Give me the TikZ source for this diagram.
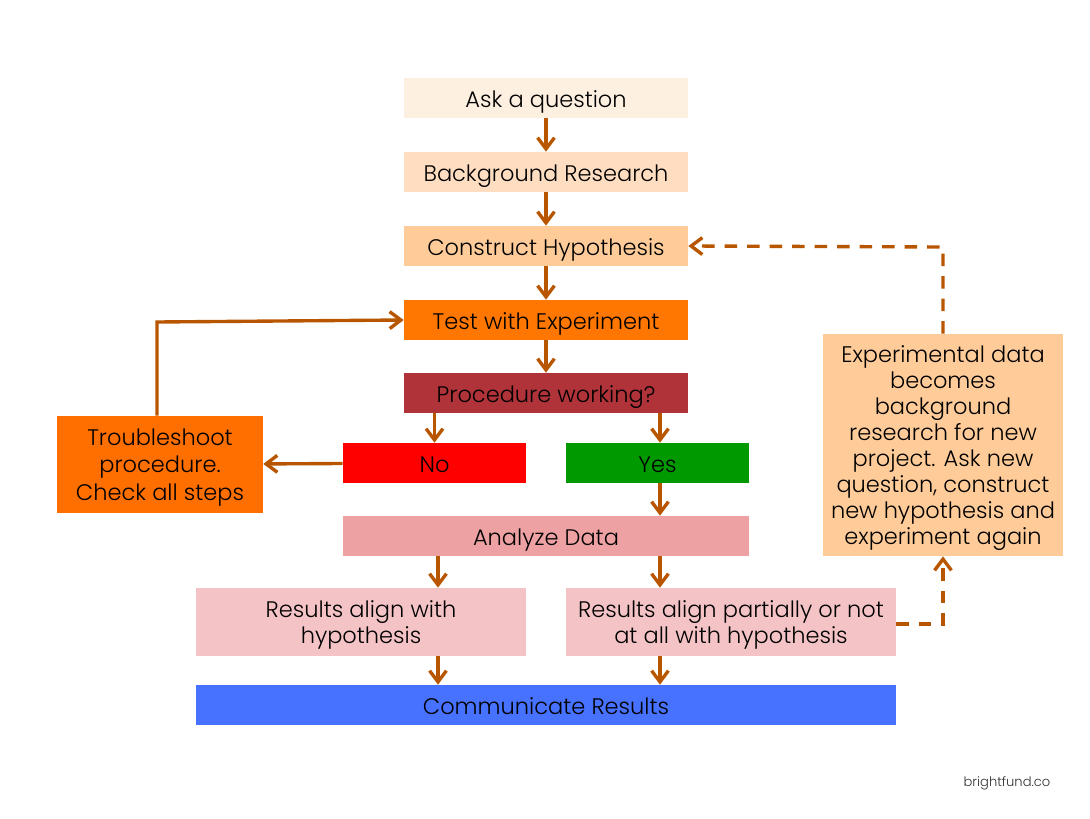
\documentclass[tikz,border=0pt]{standalone}
\usepackage{fontspec}
\setmainfont{Poppins}[UprightFont=* Light]
\usetikzlibrary{arrows.meta}
\definecolor{askcol}{HTML}{FEF0E1}
\definecolor{bgcol}{HTML}{FEDDC0}
\definecolor{hypcol}{HTML}{FFCC99}
\definecolor{testcol}{HTML}{FF7700}
\definecolor{proccol}{HTML}{B03339}
\definecolor{yescol}{HTML}{009900}
\definecolor{datacol}{HTML}{EEA1A3}
\definecolor{aligncol}{HTML}{F4C3C5}
\definecolor{commcol}{HTML}{4672FF}
\definecolor{fixcol}{HTML}{FF6F00}
\definecolor{linecol}{HTML}{B85600}
\tikzset{
    box/.style 2 args={inner sep=0pt, align=center, minimum width=#1*0.025cm, minimum height=#2*0.025cm,
        font=\fontsize{16}{18.5}\selectfont, text depth=-1.5pt},
    single/.style={box={#1}{40}, text height=18pt, text depth=4pt},
    flow/.style={->, >={Straight Barb[length=8pt,width=12pt,line width=2.4pt]}, line width=2.4pt, linecol},
    back/.style={flow, dash pattern=on 9pt off 7pt}
}
\begin{document}
\begin{tikzpicture}[x=0.025cm,y=-0.025cm]
    \useasboundingbox (0,0) rectangle (1090,819);
    \node[single=284,fill=askcol] (ask) at (546,98) {Ask a question};
    \node[single=284,fill=bgcol] (bg) at (546,172) {Background Research};
    \node[single=284,fill=hypcol] (hyp) at (546,246) {Construct Hypothesis};
    \node[single=284,fill=testcol] (test) at (546,320) {Test with Experiment};
    \node[single=284,fill=proccol] (proc) at (546,393) {Procedure working?};
    \node[single=183,fill=red] (no) at (434.5,463) {No};
    \node[single=183,fill=yescol] (yes) at (657.5,463) {Yes};
    \node[single=406,fill=datacol] (data) at (546,536) {Analyze Data};
    \node[box={330}{68},fill=aligncol] (align) at (361,622) {Results align with\\hypothesis};
    \node[box={330}{68},fill=aligncol] (partial) at (731,622) {Results align partially or not\\at all with hypothesis};
    \node[single=700,fill=commcol] (comm) at (546,705) {Communicate Results};
    \node[box={206}{97},fill=fixcol] (fix) at (160,464.5) {Troubleshoot\\[1pt]procedure.\\[1pt]Check all steps};
    \node[box={240}{222},fill=hypcol] (new) at (943,445) {Experimental data\\becomes\\background\\research for new\\project. Ask new\\question, construct\\new hypothesis and\\experiment again};
    \node[font=\fontsize{9.3}{11}\selectfont,text=black!80] (site) at (1007,783) {brightfund.co};
    \coordinate (left) at (438,0);
    \coordinate (right) at (660,0);
    \coordinate (up) at (157,0);
    \coordinate (corner) at (157,322);
    \coordinate (turn) at (943,624);
    \coordinate (top) at (943,247);
    \draw[flow] (ask) -- (bg);
    \draw[flow] (bg) -- (hyp);
    \draw[flow] (hyp) -- (test);
    \draw[flow] (test) -- (proc);
    \draw[flow] (proc.south -| no) -- (no);
    \draw[flow] (proc.south -| right) -- (yes.north -| right);
    \draw[flow] (yes.south -| right) -- (data.north -| right);
    \draw[flow] (data.south -| left) -- (align.north -| left);
    \draw[flow] (data.south -| right) -- (partial.north -| right);
    \draw[flow] (align.south -| left) -- (comm.north -| left);
    \draw[flow] (partial.south -| right) -- (comm.north -| right);
    \draw[flow] (no) -- (fix);
    \draw[flow] (fix.north -| up) -- (corner) -- (test.west);
    \draw[back] (partial.east |- turn) -- (turn) -- (new.south -| turn);
    \draw[back] (new.north -| top) -- (top) -- (hyp.east);
\end{tikzpicture}
\end{document}
